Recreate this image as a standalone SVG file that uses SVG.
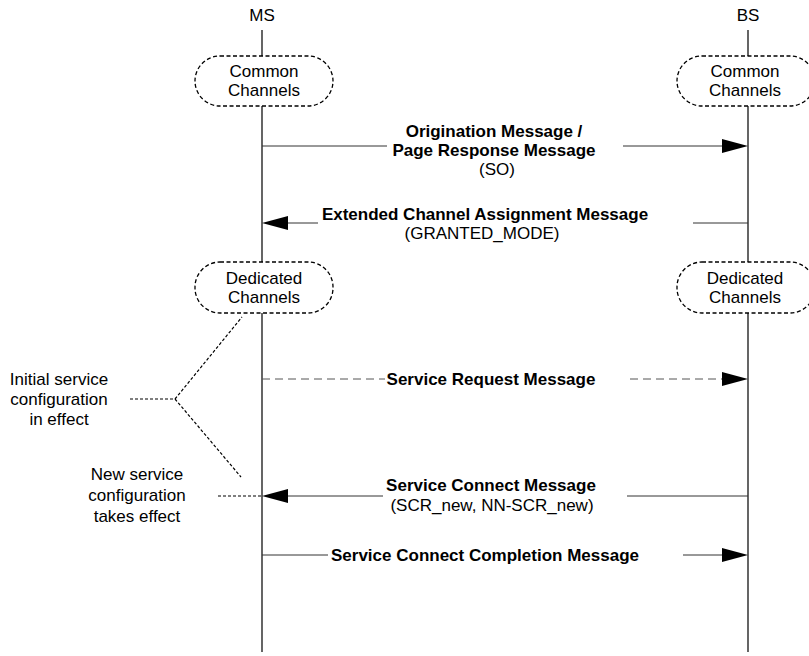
<svg xmlns="http://www.w3.org/2000/svg" width="809" height="656" viewBox="0 0 809 656">
  <style>
    text { font-family: "Liberation Sans", Arial, sans-serif; font-size: 17px; fill: #000; }
    .b { font-weight: bold; }
    .c { text-anchor: middle; }
    .life { stroke: #000; stroke-width: 1.2; fill: none; }
    .oval { fill: #fff; stroke: #000; stroke-width: 1.3; stroke-dasharray: 4 2.5; }
    .msg { stroke: #333; stroke-width: 1; fill: none; }
    .msgd { stroke: #555; stroke-width: 1; fill: none; stroke-dasharray: 8 5; }
    .note { stroke: #000; stroke-width: 1.2; fill: none; stroke-dasharray: 3 2; }
    .head { fill: #000; }
  </style>

  <!-- entity labels -->
  <g id="ms-label"><text class="c" x="262" y="21">MS</text></g>
  <g id="bs-label"><text class="c" x="748" y="21">BS</text></g>

  <!-- lifelines -->
  <g id="lifelines">
    <path class="life" d="M262 30 V58 M262 105 V264 M262 312 V652"/>
    <path class="life" d="M748 30 V58 M748 105 V264 M748 312 V652"/>
  </g>

  <!-- channel state nodes -->
  <g id="ms-common">
    <rect class="oval" x="195" y="56" width="138" height="50" rx="25" ry="25"/>
    <text class="c" x="264" y="77">Common</text>
    <text class="c" x="264" y="96">Channels</text>
  </g>
  <g id="bs-common">
    <rect class="oval" x="677" y="56" width="138" height="50" rx="25" ry="25"/>
    <text class="c" x="745" y="77">Common</text>
    <text class="c" x="745" y="96">Channels</text>
  </g>
  <g id="ms-dedicated">
    <rect class="oval" x="195" y="262" width="138" height="51" rx="25" ry="25"/>
    <text class="c" x="264" y="284">Dedicated</text>
    <text class="c" x="264" y="303">Channels</text>
  </g>
  <g id="bs-dedicated">
    <rect class="oval" x="677" y="262" width="138" height="51" rx="25" ry="25"/>
    <text class="c" x="745" y="284">Dedicated</text>
    <text class="c" x="745" y="303">Channels</text>
  </g>

  <!-- messages -->
  <g id="connectors">
    <!-- Origination / Page Response -->
    <path class="msg" d="M262 146 H387 M623 146 H723"/>
    <polygon class="head" points="722,139 748,146 722,153"/>
    <!-- Extended Channel Assignment -->
    <path class="msg" d="M287 223 H318 M693 223 H748"/>
    <polygon class="head" points="288,216 262,223 288,230"/>
    <!-- Service Request -->
    <path class="msgd" d="M262 379 H385 M630 379 H723"/>
    <polygon class="head" points="722,372 748,379 722,386"/>
    <!-- Service Connect -->
    <path class="msg" d="M287 496 H383 M627 496 H748"/>
    <polygon class="head" points="288,489 262,496 288,503"/>
    <!-- Service Connect Completion -->
    <path class="msg" d="M262 555 H328 M683 555 H723"/>
    <polygon class="head" points="722,548 748,555 722,562"/>
    <!-- annotation leaders -->
    <path class="note" d="M130 399 H175 L242 317 M175 399 L241 477"/>
    <path class="note" d="M218 496 H262"/>
  </g>

  <!-- message labels -->
  <g id="msg-origination">
    <text class="b c" x="494" y="137">Origination Message /</text>
    <text class="b c" x="494" y="156">Page Response Message</text>
    <text class="c" x="497" y="175">(SO)</text>
  </g>
  <g id="msg-ecam">
    <text class="b c" x="485" y="220">Extended Channel Assignment Message</text>
    <text class="c" x="482" y="239">(GRANTED_MODE)</text>
  </g>
  <g id="msg-service-request">
    <text class="b c" x="491" y="385">Service Request Message</text>
  </g>
  <g id="msg-service-connect">
    <text class="b c" x="491" y="491">Service Connect Message</text>
    <text class="c" x="492" y="511">(SCR_new, NN-SCR_new)</text>
  </g>
  <g id="msg-completion">
    <text class="b c" x="485" y="561">Service Connect Completion Message</text>
  </g>

  <!-- configuration notes -->
  <g id="note-initial">
    <text class="c" x="59" y="385">Initial service</text>
    <text class="c" x="59" y="405">configuration</text>
    <text class="c" x="59" y="425">in effect</text>
  </g>
  <g id="note-new">
    <text class="c" x="137" y="480">New service</text>
    <text class="c" x="137" y="501">configuration</text>
    <text class="c" x="137" y="522">takes effect</text>
  </g>
</svg>
